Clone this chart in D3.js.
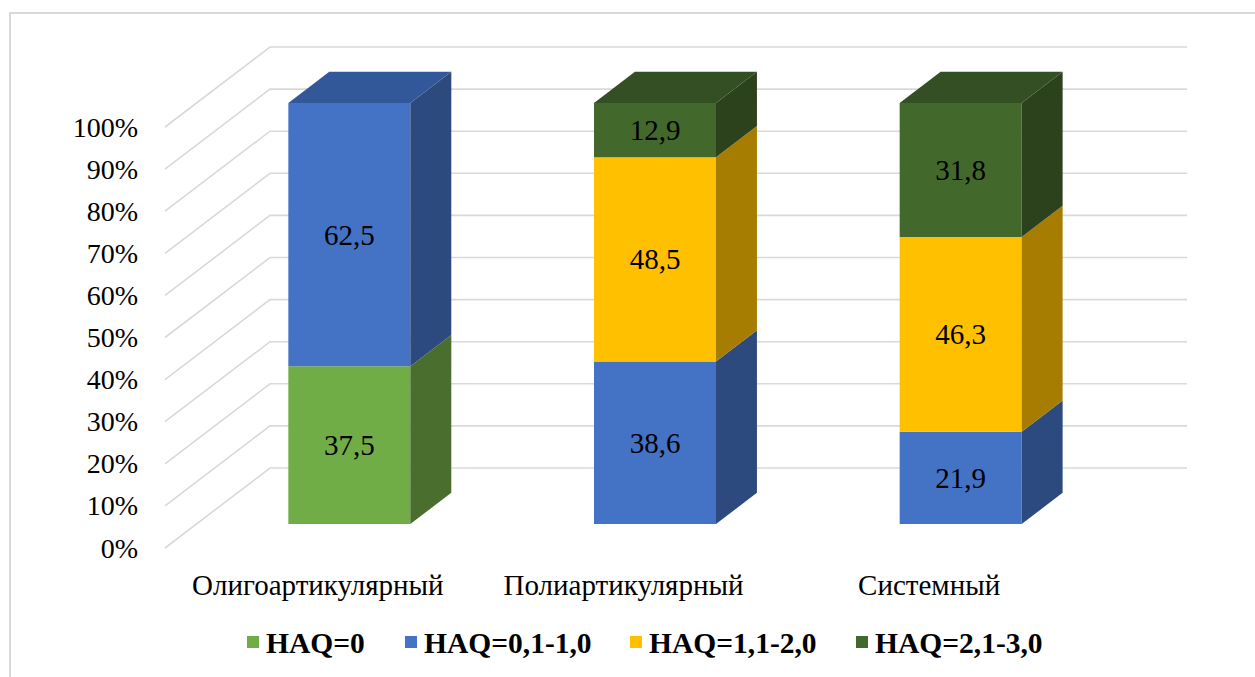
<!DOCTYPE html>
<html>
<head>
<meta charset="utf-8">
<script src="https://cdn.jsdelivr.net/npm/d3@7"></script>
<style>
  html, body { margin: 0; padding: 0; background: #fff; }
  svg { display: block; }
</style>
</head>
<body>
<svg id="chart" width="1255" height="677"></svg>
<script>
// Categories and stacked shares (%) per HAQ group
const categories = ["Олигоартикулярный", "Полиартикулярный", "Системный"];
const seriesNames = ["HAQ=0", "HAQ=0,1-1,0", "HAQ=1,1-2,0", "HAQ=2,1-3,0"];
const haq0     = [37.5, 0, 0];
const haq01_10 = [62.5, 38.6, 21.9];
const haq11_20 = [0, 48.5, 46.3];
const haq21_30 = [0, 12.9, 31.8];
const tickLabels = ["0%", "10%", "20%", "30%", "40%", "50%", "60%", "70%", "80%", "90%", "100%"];

const seriesValues = [haq0, haq01_10, haq11_20, haq21_30];
const colors = {
  front: ["#70ad47", "#4472c4", "#ffc000", "#43682b"],
  top:   ["#5a8a39", "#33589a", "#c99800", "#344f24"],
  side:  ["#4a6e2d", "#2d4a7f", "#a67d00", "#2b421d"]
};

const FONT = "Times New Roman";
const svg = d3.select("#chart");

// Chart frame
svg.append("rect")
  .attr("x", 10).attr("y", 13).attr("width", 1270).attr("height", 700)
  .attr("fill", "none").attr("stroke", "#d9d9d9").attr("stroke-width", 2);

// Oblique projection: depth d in [0,1] shifts points right/up
const depthDX = 105, depthDY = -80;
const x = d3.scaleBand().domain(categories).range([165, 1082]);
const y = d3.scaleLinear().domain([0, 100]).range([548, 127]);
const proj = (px, v, d) => [px + d * depthDX, y(v) + d * depthDY];

// Walls: side-wall diagonals and back-wall horizontals
const grid = svg.append("g").attr("stroke", "#d9d9d9").attr("stroke-width", 1.6).attr("fill", "none");
const ticks = d3.range(0, 101, 10);
ticks.forEach(t => {
  const a = proj(x.range()[0], t, 0), b = proj(x.range()[0], t, 1), c = proj(x.range()[1], t, 1);
  grid.append("polyline").attr("points", [a, b, c].map(p => p.join(",")).join(" "));
});

// Y axis labels
svg.append("g").selectAll("text").data(ticks).join("text")
  .attr("x", 138).attr("y", t => y(t))
  .attr("text-anchor", "end").attr("dominant-baseline", "central")
  .style("font-family", FONT).style("font-size", "28px")
  .text((t, i) => tickLabels[i]);

// Bars
const d0 = 0.3, d1 = 0.69, barW = 122;
const poly = pts => pts.map(p => p.join(",")).join(" ");
const bars = svg.append("g");
categories.forEach((cat, ci) => {
  const cx = x(cat) + x.bandwidth() / 2;
  const left = cx - barW / 2, right = cx + barW / 2;
  let base = 0;
  const segs = [];
  seriesValues.forEach((vals, si) => {
    const v = vals[ci];
    if (v > 0) { segs.push({ si, lo: base, hi: base + v }); base += v; }
  });
  segs.forEach((s, k) => {
    const f = [proj(left, s.lo, d0), proj(right, s.lo, d0), proj(right, s.hi, d0), proj(left, s.hi, d0)];
    const side = [proj(right, s.lo, d0), proj(right, s.lo, d1), proj(right, s.hi, d1), proj(right, s.hi, d0)];
    bars.append("polygon").attr("points", poly(f)).attr("fill", colors.front[s.si]);
    bars.append("polygon").attr("points", poly(side)).attr("fill", colors.side[s.si]);
    if (k === segs.length - 1) {
      const top = [proj(left, s.hi, d0), proj(right, s.hi, d0), proj(right, s.hi, d1), proj(left, s.hi, d1)];
      bars.append("polygon").attr("points", poly(top)).attr("fill", colors.top[s.si]);
    }
    const lp = proj(cx, (s.lo + s.hi) / 2, d0);
    bars.append("text")
      .attr("x", lp[0]).attr("y", lp[1])
      .attr("text-anchor", "middle").attr("dominant-baseline", "central")
      .style("font-family", FONT).style("font-size", "29px")
      .text(d3.format(".1f")(seriesValues[s.si][ci]).replace(".", ","));
  });
});

// Category labels
svg.append("g").selectAll("text").data(categories).join("text")
  .attr("x", c => x(c) + x.bandwidth() / 2).attr("y", 585)
  .attr("text-anchor", "middle").attr("dominant-baseline", "central")
  .style("font-family", FONT).style("font-size", "29px")
  .text(c => c);

// Legend
const legendX = [247, 405, 630, 856];
const legend = svg.append("g");
seriesNames.forEach((name, i) => {
  legend.append("rect").attr("x", legendX[i]).attr("y", 636).attr("width", 12).attr("height", 12)
    .attr("fill", colors.front[i]);
  legend.append("text").attr("x", legendX[i] + 19).attr("y", 643)
    .attr("dominant-baseline", "central")
    .style("font-family", FONT).style("font-size", "29.5px").style("font-weight", "bold")
    .text(name);
});
</script>
</body>
</html>
